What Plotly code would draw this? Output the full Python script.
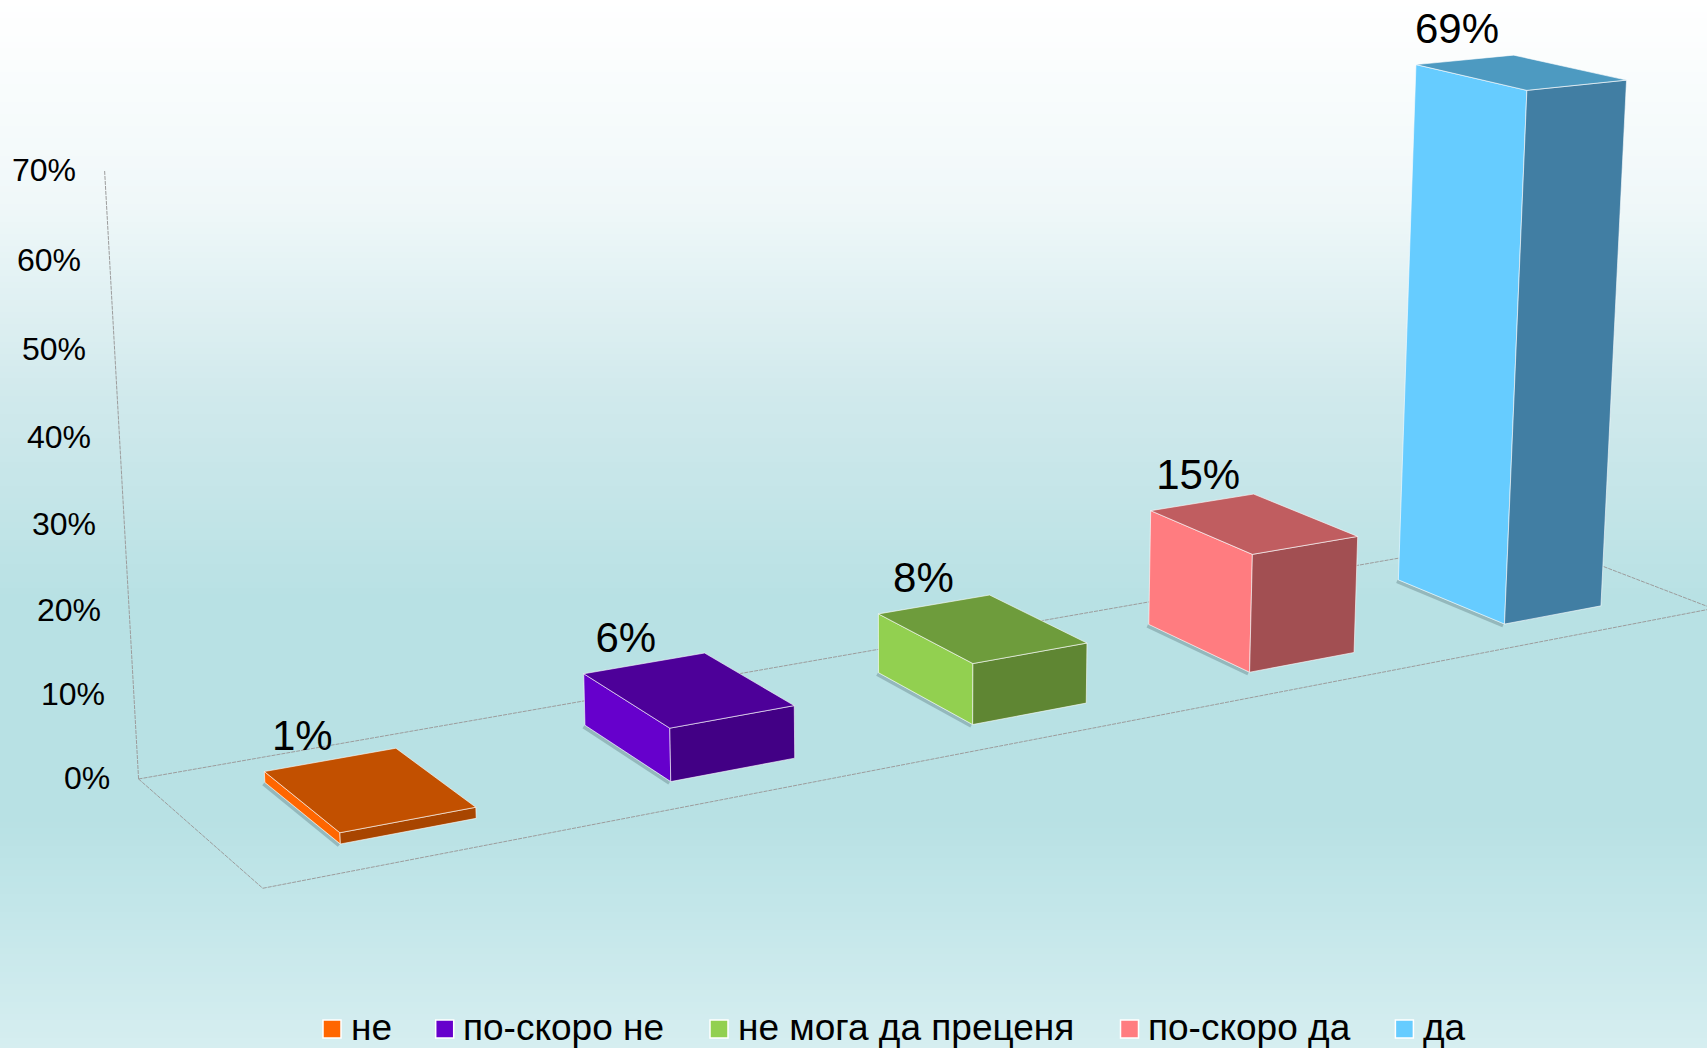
import numpy as np
import plotly.graph_objects as go

# ---- data ----
categories = ["не", "по-скоро не", "не мога да преценя", "по-скоро да", "да"]
values = [1.3, 6.4, 7.6, 15.2, 69.4]
axis_ticks = [0, 10, 20, 30, 40, 50, 60, 70]
colors_lit = ["#FF6600", "#6600CC", "#92D050", "#FF7C80", "#66CCFF"]
colors_top = ["#C25000", "#4D0099", "#6E9C3C", "#C05D60", "#4D9AC1"]
colors_side = ["#A84500", "#420085", "#5F8633", "#A24F52", "#417EA3"]

# ---- bar proportions inside the plot box (category pitch = 1, box depth = 1) ----
BAR_WIDTH = 0.40
DEPTH_BACK = 0.21
DEPTH_FRONT = 0.79
LABEL_DX = [38, 42, 45, 47.5, 41]
LABEL_DY = -32
LEGEND_KEY_X = [332, 444.7, 719, 1129.5, 1404.4]
LEGEND_Y = 1029
LEGEND_TEXT_GAP = 17.5
LEGEND_TEXT_DY = -2

# ---- camera calibration: image position of the plot frame and bar corners ----
FLOOR_REF = [((0, 0, 0), (138.2, 778)), ((0, 1, 0), (263.6, 889)), ((5, 0, 0), (1524.5, 536)),
             ((5, 1, 0), (1712, 610)), ((0, 0, 70), (104.5, 172))]
# left-top, back-top, right-top, front-top, left-bottom, front-bottom, right-bottom
BAR_REF = [
    [(265, 772.3), (396.4, 749), (475, 807.3), (338.2, 832.3), (265, 782.3), (339.3, 843.3), (476, 818.3)],
    [(584.7, 674), (704.3, 653.7), (793.7, 705.7), (669.7, 728), (585, 726), (670.3, 781), (794.7, 757.3)],
    [(878.7, 613.7), (989.3, 595), (1086.7, 642.7), (973, 662.3), (879, 673.3), (973.3, 724.3), (1086.7, 702.7)],
    [(1151, 509.3), (1253, 493.3), (1358.2, 535), (1253, 552.7), (1148.4, 625.7), (1250.2, 672.3), (1355.5, 652.3)],
    [(1416.7, 64.3), (1513.3, 55.3), (1626, 80), (1527.3, 89.3), (1397.3, 580.7), (1505, 624), (1601.4, 605.7)],
]


def bar_world(i):
    xl, xr = i + 0.5 - BAR_WIDTH / 2, i + 0.5 + BAR_WIDTH / 2
    ya, yb, v = DEPTH_BACK, DEPTH_FRONT, values[i]
    return [(xl, ya, v), (xr, ya, v), (xr, yb, v), (xl, yb, v), (xl, ya, 0), (xl, yb, 0), (xr, yb, 0)]


def fit_camera():
    pts = list(FLOOR_REF) * 3
    for i, refs in enumerate(BAR_REF):
        pts += list(zip(bar_world(i), refs))
    rows = []
    for (X, Y, Z), (u, v) in pts:
        u, v = u / 1000, v / 1000
        Z = Z / 70
        rows.append([X, Y, Z, 1, 0, 0, 0, 0, -u * X, -u * Y, -u * Z, -u])
        rows.append([0, 0, 0, 0, X, Y, Z, 1, -v * X, -v * Y, -v * Z, -v])
    return np.linalg.svd(np.array(rows, float))[2][-1].reshape(3, 4)


CAMERA = fit_camera()


def project(X, Y, Z):
    h = CAMERA @ np.array([X, Y, Z / 70, 1.0])
    return h[0] / h[2] * 1000, h[1] / h[2] * 1000


# ---- background gradient ----
BG_STOPS = [(0, (255, 255, 255)), (200, (240, 248, 249)), (400, (208, 233, 236)),
            (600, (184, 225, 228)), (820, (184, 225, 228)), (900, (194, 230, 233)), (1048, (214, 238, 240))]
shapes = []
ys = [s[0] for s in BG_STOPS]
for top in range(0, 1048, 6):
    rgb = [int(round(np.interp(top + 3, ys, [s[1][c] for s in BG_STOPS]))) for c in range(3)]
    shapes.append(dict(type="rect", xref="paper", yref="y", x0=0, x1=1, y0=top, y1=top + 6.5,
                       layer="below", line_width=0, fillcolor=f"rgb({rgb[0]},{rgb[1]},{rgb[2]})"))

fig = go.Figure()
AXIS_STYLE = dict(color="#9c9c9c", width=1, dash="4px,1px")


def frame_line(a, b):
    p, q = project(*a), project(*b)
    fig.add_trace(go.Scatter(x=[p[0], q[0]], y=[p[1], q[1]], mode="lines", line=AXIS_STYLE,
                             showlegend=False, hoverinfo="skip"))


n = len(categories)
frame_line((0, 0, 0), (0, 0, axis_ticks[-1]))
frame_line((0, 0, 0), (n, 0, 0))
frame_line((0, 1, 0), (n, 1, 0))
frame_line((0, 0, 0), (0, 1, 0))
frame_line((n, 0, 0), (n, 1, 0))


def face(corners, color, name):
    pts = [project(*c) for c in corners]
    fig.add_trace(go.Scatter(x=[p[0] for p in pts] + [pts[0][0]], y=[p[1] for p in pts] + [pts[0][1]],
                             mode="lines", fill="toself", fillcolor=color,
                             line=dict(color="rgba(255,255,255,0.6)", width=1),
                             name=name, showlegend=False, hoverinfo="name"))


for i, v in enumerate(values):
    xl = i + 0.5 - BAR_WIDTH / 2
    xr = i + 0.5 + BAR_WIDTH / 2
    a, b = DEPTH_BACK, DEPTH_FRONT
    s0, s1 = project(xl, a, 0), project(xl, b, 0)
    fig.add_trace(go.Scatter(x=[s0[0] - 1.5, s1[0] - 1.5], y=[s0[1] + 1.5, s1[1] + 1.5], mode="lines",
                             line=dict(color="rgba(70,100,105,0.32)", width=3.5),
                             showlegend=False, hoverinfo="skip"))
    face([(xl, a, 0), (xl, b, 0), (xl, b, v), (xl, a, v)], colors_lit[i], categories[i])
    face([(xl, b, 0), (xr, b, 0), (xr, b, v), (xl, b, v)], colors_side[i], categories[i])
    face([(xl, a, v), (xl, b, v), (xr, b, v), (xr, a, v)], colors_top[i], categories[i])

# value labels
tops = [project(i + 0.5 - BAR_WIDTH / 2, DEPTH_BACK, v) for i, v in enumerate(values)]
fig.add_trace(go.Scatter(x=[t[0] + d for t, d in zip(tops, LABEL_DX)], y=[t[1] + LABEL_DY for t in tops],
                         mode="text", text=[f"{v:.0f}%" for v in values], textposition="middle center",
                         textfont=dict(family="Liberation Sans", size=42, color="#000000"),
                         showlegend=False, hoverinfo="skip"))

# axis tick labels
anns = []
for t in axis_ticks:
    p = project(0, 0, t)
    anns.append(dict(x=p[0] - 26.5, y=p[1] - 1, xref="x", yref="y", text=f"{t}%", showarrow=False,
                     xanchor="right", yanchor="middle",
                     font=dict(family="Liberation Sans", size=32, color="#000000")))

# legend row
fig.add_trace(go.Scatter(x=LEGEND_KEY_X, y=[LEGEND_Y] * len(categories), mode="markers",
                         marker=dict(symbol="square", size=18, color=colors_lit, line=dict(color="white", width=1.5)),
                         showlegend=False, hoverinfo="skip"))
for name, kx in zip(categories, LEGEND_KEY_X):
    anns.append(dict(x=kx + LEGEND_TEXT_GAP, y=LEGEND_Y + LEGEND_TEXT_DY, xref="x", yref="y", text=name,
                     showarrow=False, xanchor="left", yanchor="middle", borderpad=0,
                     font=dict(family="Liberation Sans", size=37, color="#000000")))

fig.update_layout(
    width=1707, height=1048, margin=dict(l=0, r=0, t=0, b=0, pad=0, autoexpand=False),
    paper_bgcolor="#ffffff", plot_bgcolor="rgba(0,0,0,0)",
    xaxis=dict(range=[0, 1707], visible=False, fixedrange=True),
    yaxis=dict(range=[1048, 0], visible=False, fixedrange=True),
    shapes=shapes, annotations=anns, showlegend=False,
    font=dict(family="Liberation Sans"),
)
fig.write_html("out.html", config=dict(displayModeBar=False),
               post_script="document.body.style.margin='0';document.body.style.overflow='hidden';")
